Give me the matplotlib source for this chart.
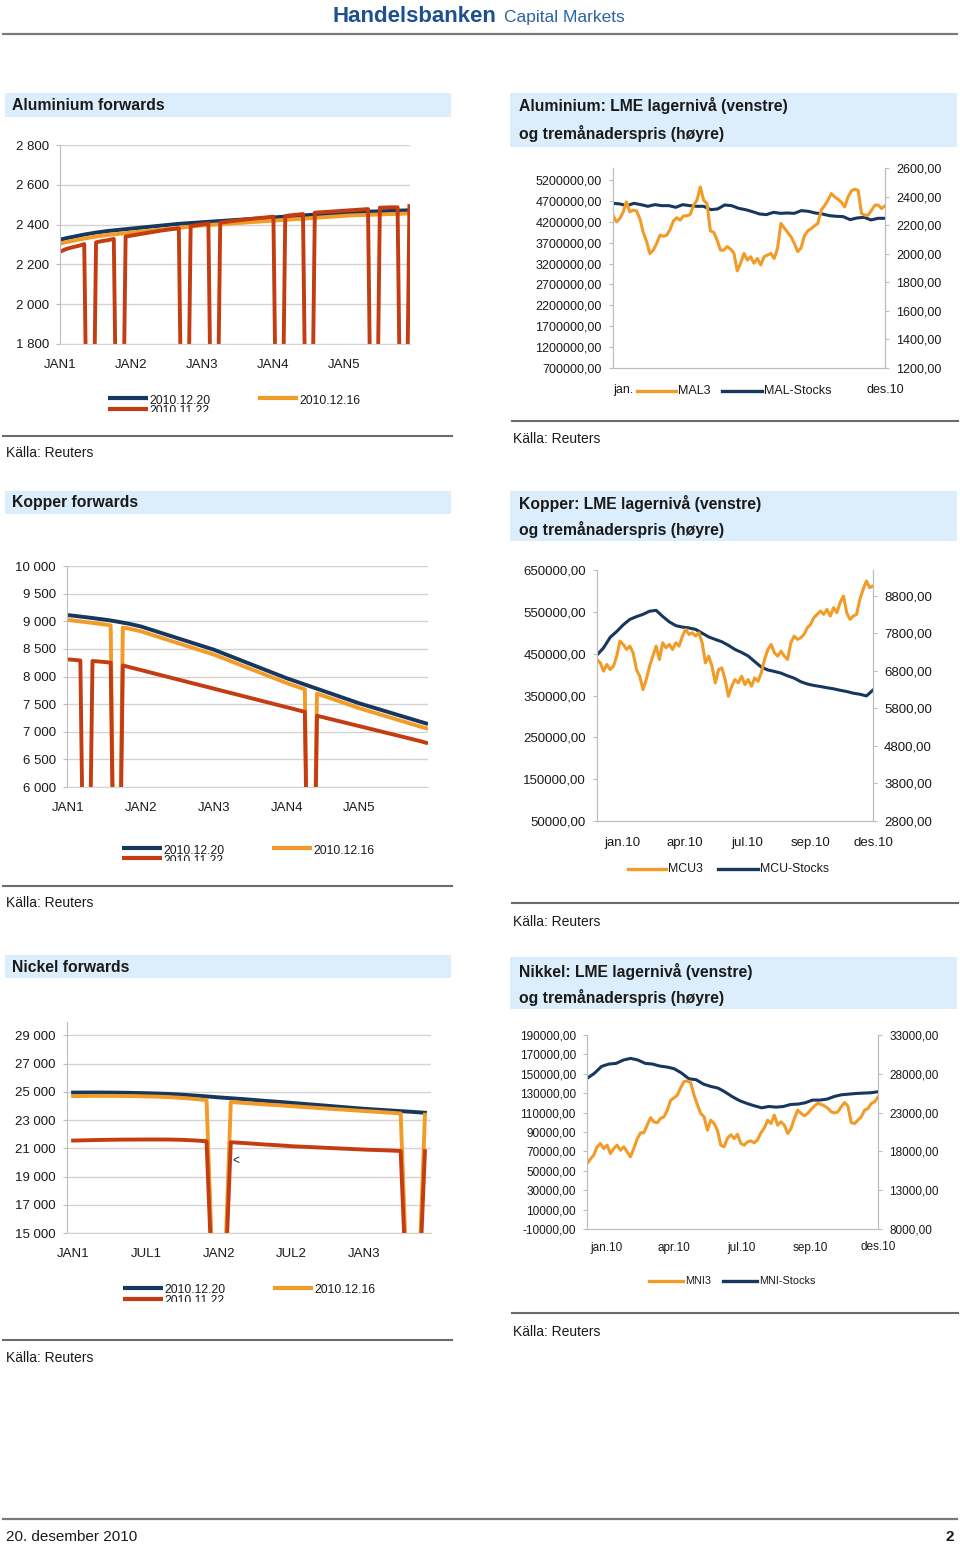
import matplotlib
matplotlib.use("Agg")
import matplotlib.pyplot as plt
import numpy as np
from matplotlib.lines import Line2D
from matplotlib.patches import Rectangle

plt.rcParams["font.family"] = ["Liberation Sans", "DejaVu Sans"]
plt.rcParams["text.color"] = "#1a1a1a"
plt.rcParams["xtick.color"] = "#1a1a1a"
plt.rcParams["ytick.color"] = "#1a1a1a"

W, H = 960, 1545
BLUE = "#17375e"
ORANGE = "#f29b26"
RED = "#c43c12"
BOX = "#dcedfb"
GRID = "#d3d3d3"
SPINE = "#bdbdbd"
RULE = "#6b6b6b"

# ---- forward curves, monthly points (0 = missing quote in the source sheet)
ALU_FWD_1220 = [2325, 2332, 2338, 2344, 2350, 2355, 2360, 2364, 2368, 2371, 2374, 2377,
                2380, 2383, 2386, 2389, 2392, 2395, 2398, 2401, 2404, 2406, 2408, 2410,
                2412, 2414, 2416, 2418, 2420, 2422, 2424, 2426, 2428, 2430, 2432, 2434,
                2436, 2438, 2440, 2442, 2444, 2446, 2448, 2450, 2452, 2454, 2456, 2458,
                2460, 2462, 2463, 2464, 2465, 2466, 2467, 2468, 2469, 2470, 2471, 2472]
ALU_FWD_1216 = [2305, 2312, 2318, 2324, 2330, 2335, 2340, 2344, 2348, 2351, 2354, 2357,
                2360, 2363, 2366, 2369, 2372, 2375, 2378, 2381, 2384, 2387, 2390, 2393,
                2396, 2398, 2400, 2402, 2404, 2406, 2408, 2410, 2412, 2414, 2416, 2418,
                2420, 2422, 2424, 2426, 2428, 2430, 2432, 2434, 2436, 2438, 2440, 2442,
                2444, 2446, 2447, 2448, 2449, 2450, 2451, 2452, 2453, 2454, 2455, 2456]
ALU_FWD_1122 = [2265, 2278, 2286, 2293, 2302, 0, 2311, 2317, 2322, 2328, 0, 2340,
                2345, 2350, 2355, 2360, 2365, 2370, 2374, 2378, 2381, 0, 2393, 2397,
                2401, 2406, 0, 2410, 2414, 2418, 2421, 2425, 2428, 2431, 2434, 2437,
                2440, 0, 2443, 2447, 2450, 2453, 0, 2460, 2462, 2464, 2466, 2468,
                2470, 2472, 2474, 2476, 2478, 0, 2485, 2486, 2487, 2487, 0, 2493]

CU_FWD_1220 = [9110, 9098, 9085, 9072, 9058, 9044, 9030, 9013, 8995, 8975, 8955, 8930,
               8905, 8870, 8835, 8800, 8765, 8730, 8695, 8660, 8625, 8590, 8555, 8520,
               8485, 8442, 8399, 8356, 8313, 8270, 8227, 8184, 8141, 8098, 8055, 8012,
               7969, 7931, 7893, 7855, 7817, 7779, 7741, 7703, 7665, 7627, 7589, 7551,
               7513, 7480, 7447, 7414, 7381, 7348, 7315, 7282, 7249, 7216, 7183, 7150]
CU_FWD_1216 = [9022, 9010, 8997, 8984, 8970, 8956, 8942, 8925, 0, 8887, 8867, 8842,
               8817, 8782, 8747, 8712, 8677, 8642, 8607, 8572, 8537, 8502, 8467, 8432,
               8397, 8354, 8311, 8268, 8225, 8182, 8139, 8096, 8053, 8010, 7967, 7924,
               7881, 7843, 7805, 7767, 0, 7691, 7653, 7615, 7577, 7539, 7501, 7463,
               7425, 7392, 7359, 7326, 7293, 7260, 7227, 7194, 7161, 7128, 7095, 7062]
CU_FWD_1122 = [8310, 8300, 8290, 0, 8280, 8272, 8262, 8250, 0, 8200, 8172, 8144,
               8116, 8088, 8060, 8032, 8004, 7976, 7948, 7920, 7892, 7864, 7836, 7808,
               7780, 7752, 7724, 7696, 7668, 7640, 7612, 7584, 7556, 7528, 7500, 7472,
               7444, 7416, 7388, 7360, 0, 7290, 7263, 7236, 7209, 7182, 7155, 7128,
               7101, 7074, 7047, 7020, 6993, 6966, 6939, 6912, 6885, 6858, 6831, 6800]

NI_FWD_1220 = [24950, 24955, 24955, 24950, 24940, 24925, 24905, 24880, 24850, 24800,
               24740, 24680, 24610, 24550, 24490, 24420, 24350, 24290, 24220, 24150,
               24080, 24010, 23940, 23870, 23800, 23745, 23690, 23635, 23580, 23520]
NI_FWD_1216 = [24700, 24710, 24715, 24715, 24710, 24700, 24680, 24660, 24620, 24570,
               24500, 24420, 0, 24280, 24220, 24160, 24100, 24050, 23990, 23930,
               23870, 23810, 23755, 23700, 23640, 23590, 23530, 23470, 0, 23380]
NI_FWD_1122 = [21550, 21570, 21590, 21605, 21615, 21620, 21625, 21625, 21620, 21600,
               21560, 21500, 0, 21430, 21380, 21320, 21260, 21210, 21150, 21110,
               21070, 21030, 20990, 20950, 20910, 20880, 20850, 20810, 0, 20800]

FWD_LABELS = ["2010.12.20", "2010.12.16", "2010.11.22"]

# ---- LME stocks (left axis) and 3-month price (right axis), 2010
MAL_STOCKS = [4642000, 4626000, 4586000, 4642000, 4610000, 4570000, 4610000, 4586000,
              4586000, 4546000, 4610000, 4586000, 4570000, 4570000, 4490000, 4506000,
              4602000, 4586000, 4522000, 4490000, 4442000, 4387000, 4371000, 4426000,
              4402000, 4410000, 4402000, 4466000, 4450000, 4410000, 4387000, 4347000,
              4331000, 4323000, 4251000, 4291000, 4307000, 4243000, 4283000, 4283000]
MAL3 = [2270, 2223, 2245, 2290, 2363, 2293, 2305, 2300, 2245, 2150, 2085, 2000, 2026,
        2072, 2130, 2122, 2130, 2170, 2230, 2252, 2235, 2265, 2265, 2275, 2340, 2374,
        2467, 2374, 2351, 2160, 2150, 2095, 2025, 2025, 2050, 2032, 2005, 1880, 1933,
        2002, 1956, 1979, 1933, 1967, 1921, 1979, 1991, 2002, 1967, 2037, 2212, 2180,
        2150, 2119, 2072, 2015, 2040, 2125, 2160, 2175, 2195, 2212, 2305, 2336, 2374,
        2421, 2398, 2382, 2360, 2328, 2398, 2440, 2452, 2444, 2281, 2270, 2270, 2305,
        2340, 2340, 2316, 2335]

MCU_STOCKS = [446800, 464000, 489000, 503000, 519000, 532000, 538500, 544000, 551500,
              553500, 539000, 526000, 517000, 513500, 511500, 508000, 499000, 490000,
              484000, 478500, 470000, 460000, 453000, 444500, 431000, 418000, 411000,
              407500, 403500, 397000, 391500, 383000, 377500, 374000, 371500, 368500,
              366000, 362500, 359500, 355500, 353000, 349000, 363000]
MCU3 = [7107, 7017, 6795, 6973, 6839, 6928, 7196, 7597, 7508, 7374, 7463, 7285, 6839,
        6661, 6304, 6572, 6928, 7196, 7463, 7107, 7552, 7419, 7508, 7374, 7552, 7463,
        7731, 7909, 7775, 7820, 7731, 7820, 7552, 7017, 7196, 6928, 6483, 6839, 6884,
        6572, 6126, 6394, 6572, 6483, 6661, 6438, 6572, 6394, 6616, 6527, 6750, 7107,
        7374, 7508, 7285, 7196, 7330, 7196, 7107, 7552, 7731, 7642, 7686, 7775, 7953,
        8042, 8221, 8310, 8399, 8310, 8443, 8265, 8488, 8354, 8622, 8800, 8354, 8176,
        8265, 8310, 8711, 8978, 9201, 9023, 9067]

MNI_STOCKS = [145250, 150400, 157600, 160050, 160750, 164200, 165900, 164200, 160750,
              160050, 158000, 156950, 155200, 150750, 144900, 143900, 139400, 137000,
              135300, 131150, 126300, 122200, 119400, 117000, 114950, 116300, 115650,
              116300, 118400, 118750, 120150, 122900, 122900, 123900, 126650, 128400,
              129050, 129750, 130100, 130450, 131500]
MNI3 = [16434, 17000, 17508, 18584, 19015, 18370, 18800, 17724, 18370, 18800, 18155,
        18584, 17940, 17300, 18400, 19600, 20400, 20400, 21400, 22350, 21800, 21700,
        22250, 22450, 23300, 24600, 24900, 25250, 26200, 27000, 27080, 26870, 25254,
        24000, 22889, 22458, 20737, 22028, 21597, 20737, 18800, 18600, 19700, 20150,
        19660, 20200, 19015, 18800, 19230, 19350, 19100, 19500, 20400, 21000, 22028,
        21597, 22673, 21382, 21812, 21382, 20306, 20951, 22243, 23318, 22889, 22600,
        22900, 23420, 23850, 24179, 24070, 23850, 23550, 23103, 22960, 23100, 23750,
        24290, 23850, 21700, 21597, 22028, 22458, 23318, 23533, 24179, 24394, 25000]

fig = plt.figure(figsize=(W / 100, H / 100), dpi=100)


def rect(x0, y0, x1, y1):
    return [x0 / W, 1 - y1 / H, (x1 - x0) / W, (y1 - y0) / H]


def text(x, y, s, **kw):
    kw.setdefault("va", "center")
    fig.text(x / W, 1 - y / H, s, **kw)


def rule(x0, x1, y, lw=1.5, color=RULE):
    fig.add_artist(Line2D([x0 / W, x1 / W], [1 - y / H] * 2,
                          transform=fig.transFigure, color=color, lw=lw))


def title_box(x0, y0, x1, y1, tx, lines):
    fig.add_artist(Rectangle((x0 / W, 1 - y1 / H), (x1 - x0) / W, (y1 - y0) / H,
                             transform=fig.transFigure, facecolor=BOX, edgecolor="none"))
    for s, y in lines:
        text(tx, y, s, fontsize=11.3, fontweight="bold")


def space_thousands(v):
    return f"{v:,}".replace(",", " ")


def comma_dec(v):
    return f"{v:.2f}".replace(".", ",")


def forward_chart(box, ylim, yticks, xlim, xticks, xlabels, series):
    ax = fig.add_axes(rect(*box))
    x = np.arange(len(series[0][0]))
    for vals, color in series:
        ax.plot(x, vals, color=color, lw=2.8, solid_joinstyle="round")
    ax.set_xlim(*xlim)
    ax.set_ylim(*ylim)
    ax.set_yticks(yticks, [space_thousands(v) for v in yticks])
    ax.set_xticks(xticks, xlabels)
    ax.yaxis.grid(True, color=GRID, lw=1)
    ax.set_axisbelow(True)
    ax.spines["top"].set_visible(False)
    ax.spines["right"].set_visible(False)
    ax.spines["bottom"].set_color(GRID)
    ax.spines["left"].set_color(SPINE)
    ax.tick_params(axis="y", length=3, color=SPINE, labelsize=9.5, pad=5)
    ax.tick_params(axis="x", length=0, labelsize=9.5, pad=11)
    return ax


def forward_legend(x0, y0, x1, y1, entries):
    # clipped box: the third entry is cut in half as in the source
    lax = fig.add_axes(rect(x0, y0, x1, y1))
    lax.set_xlim(x0, x1)
    lax.set_ylim(y1, y0)
    lax.axis("off")
    for lx, ly, color, label in entries:
        lax.plot([lx, lx + 40], [ly, ly], color=color, lw=3, solid_capstyle="butt")
        lax.text(lx + 41, ly + 2.5, label, fontsize=8.8, va="center", clip_on=True)


def stock_chart(box, stocks, price, left, right, xticks, xlabels, fs, xpad):
    ax = fig.add_axes(rect(*box))
    ax2 = ax.twinx()
    ax.plot(np.linspace(0, 1, len(stocks)), stocks, color=BLUE, lw=2.2)
    ax2.plot(np.linspace(0, 1, len(price)), price, color=ORANGE, lw=2.2)
    ax.set_xlim(0, 1)
    ax.set_ylim(*left[0])
    ax.set_yticks(left[1], [comma_dec(v) for v in left[1]])
    ax2.set_ylim(*right[0])
    ax2.set_yticks(right[1], [comma_dec(v) for v in right[1]])
    ax.set_xticks(xticks, xlabels)
    for a in (ax, ax2):
        a.spines["top"].set_visible(False)
        for s in ("left", "right", "bottom"):
            a.spines[s].set_color(SPINE)
    ax.tick_params(axis="y", length=3, color=SPINE, labelsize=fs, pad=5)
    ax2.tick_params(axis="y", length=3, color=SPINE, labelsize=fs, pad=5)
    ax.tick_params(axis="x", length=0, labelsize=fs, pad=xpad)
    return ax


def fig_legend(y, entries, fs):
    for x0, x1, color, label in entries:
        rule(x0, x1, y, lw=2.4, color=color)
        text(x1 + 2, y, label, fontsize=fs)


# ---- page header / footer
text(332, 22, "Handelsbanken", fontsize=16, fontweight="bold", color="#1d4f91", va="baseline")
text(504, 22, "Capital Markets", fontsize=12.5, color="#2c64a8", va="baseline")
rule(3, 957, 34, lw=1.6, color="#7a7a7a")
rule(3, 957, 1519, lw=1.6, color="#7a7a7a")
text(6, 1537, "20. desember 2010", fontsize=11)
text(954, 1537, "2", fontsize=11, fontweight="bold", ha="right")

# ---- Aluminium forwards
title_box(5, 93, 451, 117, 12, [("Aluminium forwards", 105)])
forward_chart((60, 145, 410, 344), (1800, 2800), list(range(1800, 2801, 200)),
              (-0.1, 59.1), [0, 12, 24, 36, 48], ["JAN1", "JAN2", "JAN3", "JAN4", "JAN5"],
              [(ALU_FWD_1220, BLUE), (ALU_FWD_1216, ORANGE), (ALU_FWD_1122, RED)])
forward_legend(100, 388, 420, 412, [(108, 398, BLUE, FWD_LABELS[0]),
                                    (258, 398, ORANGE, FWD_LABELS[1]),
                                    (108, 409, RED, FWD_LABELS[2])])
rule(3, 452, 436)
text(6, 453, "Källa: Reuters", fontsize=10)

# ---- Aluminium LME
title_box(510, 93, 957, 147, 519, [("Aluminium: LME lagernivå (venstre)", 106),
                                   ("og tremånaderspris (høyre)", 133)])
stock_chart((613, 168, 885, 368), MAL_STOCKS, MAL3,
            ((700000, 5487000), list(range(700000, 5200001, 500000))),
            ((1200, 2600), list(range(1200, 2601, 200))),
            [0.037, 1.0], ["jan.", "des.10"], 9, 11.5)
fig_legend(391, [(637, 676, ORANGE, "MAL3"), (722, 762, BLUE, "MAL-Stocks")], 9)
rule(512, 958, 421)
text(513, 439, "Källa: Reuters", fontsize=10)

# ---- Kopper forwards
title_box(5, 491, 451, 514, 12, [("Kopper forwards", 503)])
forward_chart((67, 566, 428, 787), (6000, 10000), list(range(6000, 10001, 500)),
              (-0.2, 59.3), [0, 12, 24, 36, 48], ["JAN1", "JAN2", "JAN3", "JAN4", "JAN5"],
              [(CU_FWD_1220, BLUE), (CU_FWD_1216, ORANGE), (CU_FWD_1122, RED)])
forward_legend(115, 838, 440, 861, [(122, 848, BLUE, FWD_LABELS[0]),
                                    (272, 848, ORANGE, FWD_LABELS[1]),
                                    (122, 858, RED, FWD_LABELS[2])])
rule(3, 452, 886)
text(6, 903, "Källa: Reuters", fontsize=10)

# ---- Kopper LME
title_box(510, 491, 957, 541, 519, [("Kopper: LME lagernivå (venstre)", 503),
                                    ("og tremånaderspris (høyre)", 530)])
stock_chart((597, 570, 873, 821), MCU_STOCKS, MCU3,
            ((50000, 650000), list(range(50000, 650001, 100000))),
            ((2800, 9493), list(range(2800, 8801, 1000))),
            [0.091, 0.319, 0.543, 0.772, 1.0],
            ["jan.10", "apr.10", "jul.10", "sep.10", "des.10"], 9.5, 11.5)
fig_legend(869, [(628, 666, ORANGE, "MCU3"), (718, 758, BLUE, "MCU-Stocks")], 8.8)
rule(512, 958, 903)
text(513, 922, "Källa: Reuters", fontsize=10)

# ---- Nickel forwards
title_box(5, 955, 451, 978, 12, [("Nickel forwards", 967)])
forward_chart((67, 1022, 431, 1233), (15000, 29950), list(range(15000, 29001, 2000)),
              (-0.5, 29.5), [0, 6, 12, 18, 24], ["JAN1", "JUL1", "JAN2", "JUL2", "JAN3"],
              [(NI_FWD_1220, BLUE), (NI_FWD_1216, ORANGE), (NI_FWD_1122, RED)])
text(236, 1161, "<", fontsize=8.5, ha="center")
forward_legend(115, 1278, 440, 1302, [(123, 1288, BLUE, FWD_LABELS[0]),
                                      (273, 1288, ORANGE, FWD_LABELS[1]),
                                      (123, 1299, RED, FWD_LABELS[2])])
rule(3, 452, 1340)
text(6, 1358, "Källa: Reuters", fontsize=10)

# ---- Nikkel LME
title_box(510, 957, 957, 1009, 519, [("Nikkel: LME lagernivå (venstre)", 971),
                                     ("og tremånaderspris (høyre)", 998)])
stock_chart((587, 1035, 878, 1229), MNI_STOCKS, MNI3,
            ((-10000, 190000), list(range(-10000, 190001, 20000))),
            ((8000, 33000), list(range(8000, 33001, 5000))),
            [0.068, 0.299, 0.532, 0.766, 1.0],
            ["jan.10", "apr.10", "jul.10", "sep.10", "des.10"], 8.5, 9)
fig_legend(1281, [(649, 683, ORANGE, "MNI3"), (723, 757, BLUE, "MNI-Stocks")], 7.8)
rule(512, 958, 1313)
text(513, 1332, "Källa: Reuters", fontsize=10)

fig.savefig("out.png", dpi=100)
